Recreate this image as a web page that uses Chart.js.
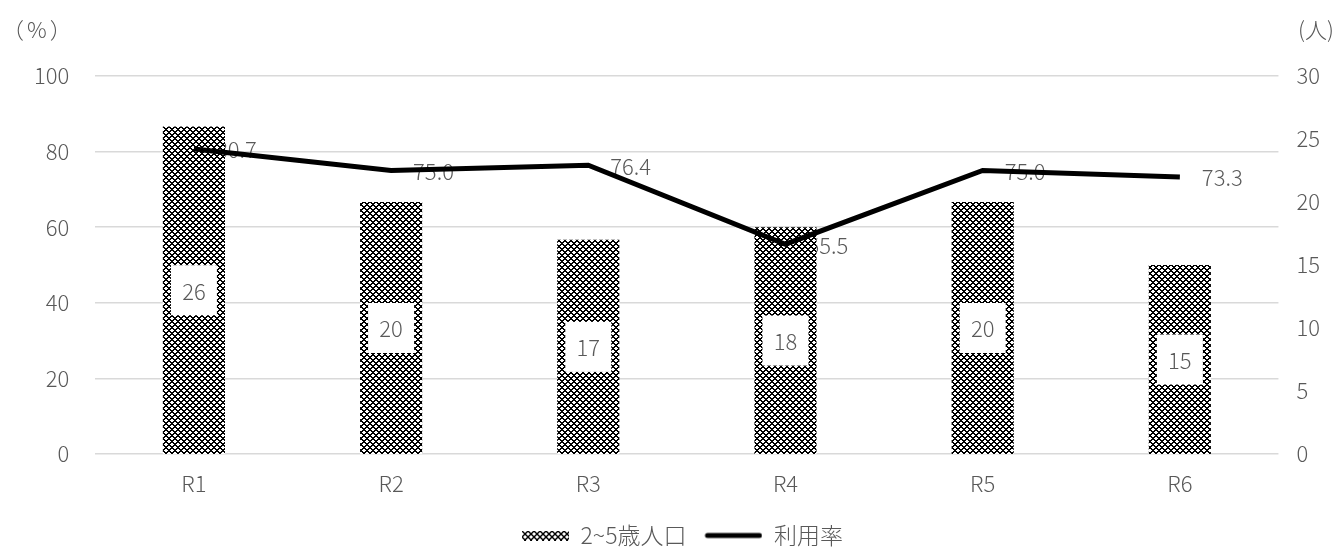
<!DOCTYPE html>
<html>
<head>
<meta charset="utf-8">
<script src="https://cdn.jsdelivr.net/npm/chart.js@4.4.0/dist/chart.umd.min.js"></script>
<style>
  html, body { margin: 0; padding: 0; background: #fff; }
  #wrap { width: 1344px; height: 547px; }
</style>
</head>
<body>
<div id="wrap"><canvas id="myChart"></canvas></div>
<script>
const labels = ["R1", "R2", "R3", "R4", "R5", "R6"];
const population = [26, 20, 17, 18, 20, 15];
const usageRate = [80.7, 75.0, 76.4, 55.5, 75.0, 73.3];
const leftTicks = [0, 20, 40, 60, 80, 100];
const rightTicks = [0, 5, 10, 15, 20, 25, 30];

const textColor = "#595959";
const fontFamily = "'Noto Sans CJK JP', 'Noto Sans', sans-serif";
const font = { size: 22, family: fontFamily, weight: 300 };
const legendFont = { size: 23, family: fontFamily, weight: 300 };

// checkered pattern like the excel fill
const makePattern = () => {
  const c = document.createElement("canvas");
  c.width = 6;
  c.height = 6;
  const g = c.getContext("2d");
  g.fillStyle = "#fff";
  g.fillRect(0, 0, 6, 6);
  g.fillStyle = "#000";
  for (let x = 0; x < 6; x++) {
    for (let y = 0; y < 6; y++) {
      if ((x + y) % 6 < 2 || (x - y + 6) % 6 < 2) g.fillRect(x, y, 1, 1);
    }
  }
  return document.getElementById("myChart").getContext("2d").createPattern(c, "repeat");
};
const pattern = makePattern();

// legend symbols (icon sits at the right side of its box)
const iconW = 66;
const barIcon = (() => {
  const c = document.createElement("canvas");
  c.width = iconW;
  c.height = 10;
  const g = c.getContext("2d");
  g.fillStyle = pattern;
  g.fillRect(iconW - 47, 0, 47, 10);
  return c;
})();
const lineIcon = (() => {
  const c = document.createElement("canvas");
  c.width = iconW;
  c.height = 8;
  const g = c.getContext("2d");
  g.strokeStyle = "#000";
  g.lineWidth = 5;
  g.lineCap = "round";
  g.beginPath();
  g.moveTo(iconW - 55, 4);
  g.lineTo(iconW - 3, 4);
  g.stroke();
  return c;
})();

const fontStr = "300 22px " + fontFamily;

const labelPlugin = {
  id: "labelPlugin",
  beforeDatasetsDraw(chart) {
    // line labels sit under the marks
    const ctx = chart.ctx;
    const meta = chart.getDatasetMeta(0);
    ctx.save();
    ctx.font = fontStr;
    ctx.fillStyle = textColor;
    ctx.textAlign = "left";
    ctx.textBaseline = "middle";
    meta.data.forEach((pt, i) => {
      ctx.fillText(usageRate[i].toFixed(1), pt.x + 22, pt.y + 1);
    });
    ctx.restore();
  },
  afterDatasetsDraw(chart) {
    const ctx = chart.ctx;
    const meta = chart.getDatasetMeta(1);
    ctx.save();
    ctx.font = fontStr;
    ctx.textAlign = "center";
    ctx.textBaseline = "middle";
    meta.data.forEach((bar, i) => {
      const cy = (bar.y + bar.base) / 2;
      ctx.fillStyle = "#fff";
      ctx.fillRect(bar.x - 23, cy - 25, 46, 50);
      ctx.fillStyle = textColor;
      ctx.fillText(String(population[i]), bar.x, cy + 1);
    });
    ctx.restore();
  },
  afterDraw(chart) {
    const ctx = chart.ctx;
    ctx.save();
    ctx.font = fontStr;
    ctx.fillStyle = textColor;
    ctx.textBaseline = "middle";
    ctx.textAlign = "left";
    ctx.letterSpacing = "3px";
    ctx.fillText("（%）", 2, 30);
    ctx.letterSpacing = "0px";
    ctx.fillText("(人)", 1298, 30);
    ctx.restore();
  }
};

new Chart(document.getElementById("myChart"), {
  data: {
    labels: labels,
    datasets: [
      {
        type: "line",
        label: "利用率",
        data: usageRate,
        yAxisID: "y",
        borderColor: "#000",
        backgroundColor: "#000",
        borderWidth: 5,
        pointRadius: 0,
        tension: 0,
        order: 0
      },
      {
        type: "bar",
        label: "2~5歳人口",
        data: population,
        yAxisID: "y1",
        backgroundColor: pattern,
        barPercentage: 1,
        categoryPercentage: 0.315,
        order: 1
      }
    ]
  },
  options: {
    responsive: true,
    maintainAspectRatio: false,
    animation: false,
    layout: { padding: { top: 76, right: 6, left: 8, bottom: -10 } },
    plugins: {
      tooltip: { enabled: false },
      legend: {
        position: "bottom",
        labels: {
          color: textColor,
          font: legendFont,
          usePointStyle: true,
          pointStyleWidth: iconW,
          padding: 10,
          generateLabels: (chart) => [
            { text: "2~5歳人口", pointStyle: barIcon, datasetIndex: 1, fontColor: textColor, lineWidth: 0 },
            { text: "利用率", pointStyle: lineIcon, datasetIndex: 0, fontColor: textColor, lineWidth: 0 }
          ]
        }
      }
    },
    scales: {
      x: {
        grid: { display: false },
        border: { display: false },
        ticks: { color: textColor, font: font, padding: 8 },
        afterFit: (axis) => { axis.height = 60; }
      },
      y: {
        position: "left",
        min: 0,
        max: 100,
        afterBuildTicks: (axis) => { axis.ticks = leftTicks.map((v) => ({ value: v })); },
        grid: { color: "#d9d9d9", lineWidth: 1.5, drawTicks: false },
        border: { display: false },
        ticks: { color: textColor, font: font, padding: 26 }
      },
      y1: {
        position: "right",
        min: 0,
        max: 30,
        afterBuildTicks: (axis) => { axis.ticks = rightTicks.map((v) => ({ value: v })); },
        grid: { display: false, drawTicks: false },
        border: { display: false },
        ticks: { color: textColor, font: font, padding: 18 }
      }
    }
  },
  plugins: [labelPlugin]
});
</script>
</body>
</html>
